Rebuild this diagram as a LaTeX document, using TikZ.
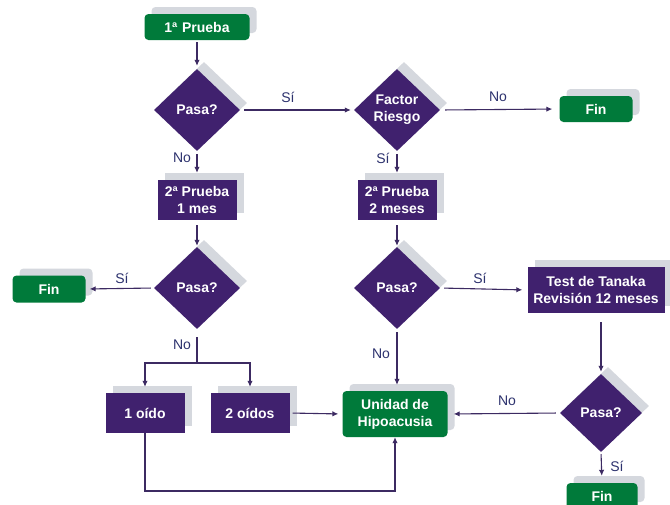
\documentclass[tikz,border=0pt]{standalone}
\usepackage{fontspec}
\setmainfont{Liberation Sans}
\usetikzlibrary{shapes.geometric,shadows,arrows.meta}
\definecolor{purp}{RGB}{64,33,110}
\definecolor{grn}{RGB}{0,122,58}
\definecolor{shgray}{RGB}{213,216,222}
\definecolor{arrcol}{RGB}{60,42,98}
\definecolor{lblcol}{RGB}{45,50,110}
\tikzset{
  shd/.style={drop shadow={opacity=1, fill=shgray, shadow xshift=7pt, shadow yshift=7pt}},
  nodetext/.style={text=white, font=\bfseries\fontsize{14}{17}\selectfont, align=center, inner sep=0pt},
  purplebox/.style={rectangle, fill=purp, nodetext, shd, minimum width=79pt, minimum height=40pt},
  greenbox/.style={rectangle, rounded corners=4pt, fill=grn, nodetext, shd},
  decision/.style={diamond, fill=purp, nodetext, shd, minimum width=86pt, minimum height=82pt},
  conn/.style={draw=arrcol, line width=1.1pt, -{Latex[length=6pt,width=5.5pt]}},
  plain/.style={draw=arrcol, line width=1.1pt},
  lbl/.style={text=lblcol, font=\fontsize{14}{16}\selectfont, inner sep=0pt}
}
\begin{document}
\begin{tikzpicture}[x=1pt,y=-1pt]
\useasboundingbox (0,0) rectangle (670,504);
\clip (0,0) rectangle (670,504);
\fill[white] (0,0) rectangle (670,504);
% nodes
\node[greenbox, minimum width=105pt, minimum height=26pt] (p1) at (197,27) {1ª\,\,Prueba};
\node[decision] (d1) at (197,110) {Pasa?};
\node[decision] (d2) at (397,110) {Factor\\Riesgo};
\node[greenbox, minimum width=73pt, minimum height=26pt] (fin1) at (596,109) {Fin};
\node[purplebox] (b1) at (197,200) {2ª Prueba\\1 mes};
\node[purplebox] (b2) at (397,200) {2ª Prueba\\2 meses};
\node[decision] (d3) at (197,288) {Pasa?};
\node[greenbox, minimum width=73pt, minimum height=27pt] (fin2) at (49,289) {Fin};
\node[decision] (d4) at (397,288) {Pasa?};
\node[purplebox, minimum width=137pt, minimum height=46pt] (tan) at (596,290) {Test de Tanaka\\Revisión 12 meses};
\node[decision, minimum width=82pt, minimum height=78pt] (d5) at (601,413) {Pasa?};
\node[purplebox] (o1) at (145,413) {1 oído};
\node[purplebox] (o2) at (250,413) {2 oídos};
\node[greenbox, minimum width=105pt, minimum height=46pt] (hip) at (395,414) {Unidad de\\Hipoacusia};
\node[greenbox, minimum width=71pt, minimum height=26pt] (fin3) at (602,496) {Fin};
\coordinate (sp) at (197,363);
\coordinate (lo) at (145,491);
% connectors
\draw[conn, shorten <=2pt, shorten >=3pt] (p1.south) -- (d1.north);
\draw[conn, shorten <=4pt, shorten >=3pt] (d1.east) -- (d2.west);
\draw[conn, shorten <=5pt, shorten >=7pt] (d2.east) -- (fin1.west);
\draw[conn, shorten <=3pt, shorten >=7pt] (d1.south) -- (b1.north);
\draw[conn, shorten <=3pt, shorten >=7pt] (d2.south) -- (b2.north);
\draw[conn, shorten <=5pt, shorten >=1pt] (b1.south) -- (d3.north);
\draw[conn, shorten <=5pt, shorten >=1pt] (b2.south) -- (d4.north);
\draw[conn, shorten <=3pt, shorten >=4pt] (d3.west) -- (fin2.east);
\draw[conn, shorten <=4pt, shorten >=5pt] (d4.east) -- (tan.west);
\draw[plain, shorten <=8pt] (d3.south) -- (sp);
\draw[conn, shorten >=6pt] (sp) -| (o1.north);
\draw[conn, shorten >=6pt] (sp) -| (o2.north);
\draw[conn, shorten <=3pt, shorten >=6pt] (d4.south) -- (d4.south |- hip.north);
\draw[conn, shorten <=3pt, shorten >=4pt] (o2.east) -- (hip.west);
\draw[conn] (o1.south) -- (lo) -| (hip.south);
\draw[conn, shorten <=9pt, shorten >=2pt] (d5.north |- tan.south) -- (d5.north);
\draw[conn, shorten <=4pt, shorten >=6pt] (d5.west) -- (hip.east);
\draw[conn, shorten <=2pt, shorten >=7pt] (d5.south) -- (fin3.north);
% labels
\node[lbl] (l1) at (288,97) {Sí};
\node[lbl] (l2) at (498,97) {No};
\node[lbl] (l3) at (182,158) {No};
\node[lbl] (l4) at (383,158) {Sí};
\node[lbl] (l5) at (122,278) {Sí};
\node[lbl] (l6) at (480,278) {Sí};
\node[lbl] (l7) at (182,345) {No};
\node[lbl] (l8) at (381,354) {No};
\node[lbl] (l9) at (507,401) {No};
\node[lbl] (l10) at (617,466) {Sí};
\end{tikzpicture}
\end{document}
